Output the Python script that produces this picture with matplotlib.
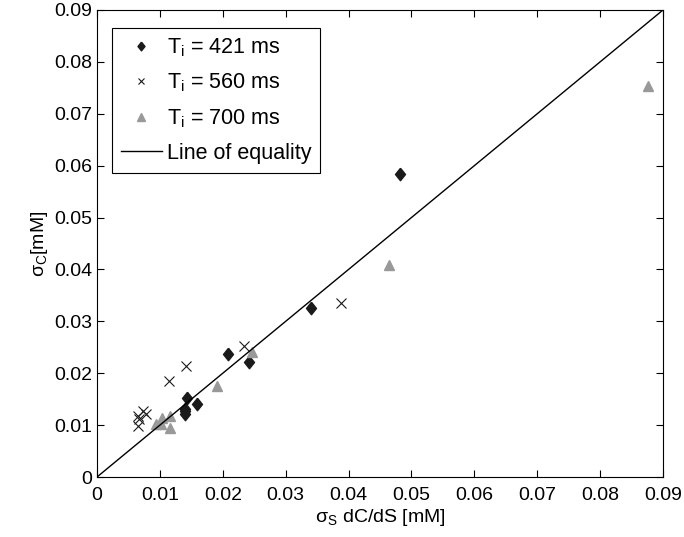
import numpy as np
import matplotlib
matplotlib.use('Agg')
import matplotlib.pyplot as plt

plt.rcParams['font.family'] = ['Liberation Sans', 'DejaVu Sans']
plt.rcParams['mathtext.default'] = 'regular'

# T_i = 421 ms
x421 = [0.0209, 0.0241, 0.0143, 0.0159, 0.0140, 0.0140, 0.0140, 0.0482, 0.0340]
y421 = [0.0237, 0.0222, 0.0153, 0.0141, 0.0132, 0.0127, 0.0122, 0.0584, 0.0325]
# T_i = 560 ms
x560 = [0.0388, 0.0234, 0.0141, 0.0114, 0.0065, 0.0073, 0.0078, 0.0065, 0.0067]
y560 = [0.0335, 0.0252, 0.0214, 0.0185, 0.0118, 0.0128, 0.0122, 0.0099, 0.0111]
# T_i = 700 ms
x700 = [0.0247, 0.0191, 0.0116, 0.0103, 0.0094, 0.0101, 0.0116, 0.0465, 0.0876]
y700 = [0.0241, 0.0175, 0.0117, 0.0113, 0.0103, 0.0102, 0.0094, 0.0409, 0.0754]

diamond = [(0, 1), (0.8, 0), (0, -1), (-0.8, 0), (0, 1)]

fig = plt.figure(figsize=(6.84, 5.37), dpi=100)
ax = fig.add_axes([0.1418, 0.1117, 0.8275, 0.8697])

ax.plot(x421, y421, linestyle='none', marker=diamond, color='#1a1a1a', markersize=9,
        label='T$_i$ = 421 ms')
ax.plot(x560, y560, 'x', color='#1a1a1a', markersize=6.5, markeredgewidth=0.8,
        label='T$_i$ = 560 ms')
ax.plot(x700, y700, '^', color='#999999', markersize=7.5, label='T$_i$ = 700 ms')
lim = [0, 0.09]
ax.plot(lim, lim, '-', color='black', linewidth=1, label='Line of equality')

ax.set_xlim(lim)
ax.set_ylim(lim)
ticks = np.arange(0, 0.091, 0.01)
labels = ['0'] + ['%.2f' % v for v in ticks[1:]]
ax.set_xticks(ticks)
ax.set_yticks(ticks)
ax.set_xticklabels(labels)
ax.set_yticklabels(labels)
ax.tick_params(direction='in', top=True, right=True, labelsize=14, length=5)
ax.tick_params(axis='x', pad=7)
for s in ax.spines.values():
    s.set_linewidth(0.8)

ax.set_xlabel(r'$\sigma_S$ dC/dS [mM]', fontsize=14, labelpad=2)
ax.set_ylabel(r'$\sigma_C$[mM]', fontsize=14, labelpad=3)

leg = ax.legend(loc='upper left', fontsize=15.5, fancybox=False, edgecolor='black',
                framealpha=1, handlelength=1.9, handletextpad=0.25, borderpad=0.4,
                labelspacing=0.6, markerscale=0.7, borderaxespad=0,
                bbox_to_anchor=(0.027, 0.962))
leg.get_frame().set_linewidth(0.8)

fig.savefig('out.png', dpi=100)
